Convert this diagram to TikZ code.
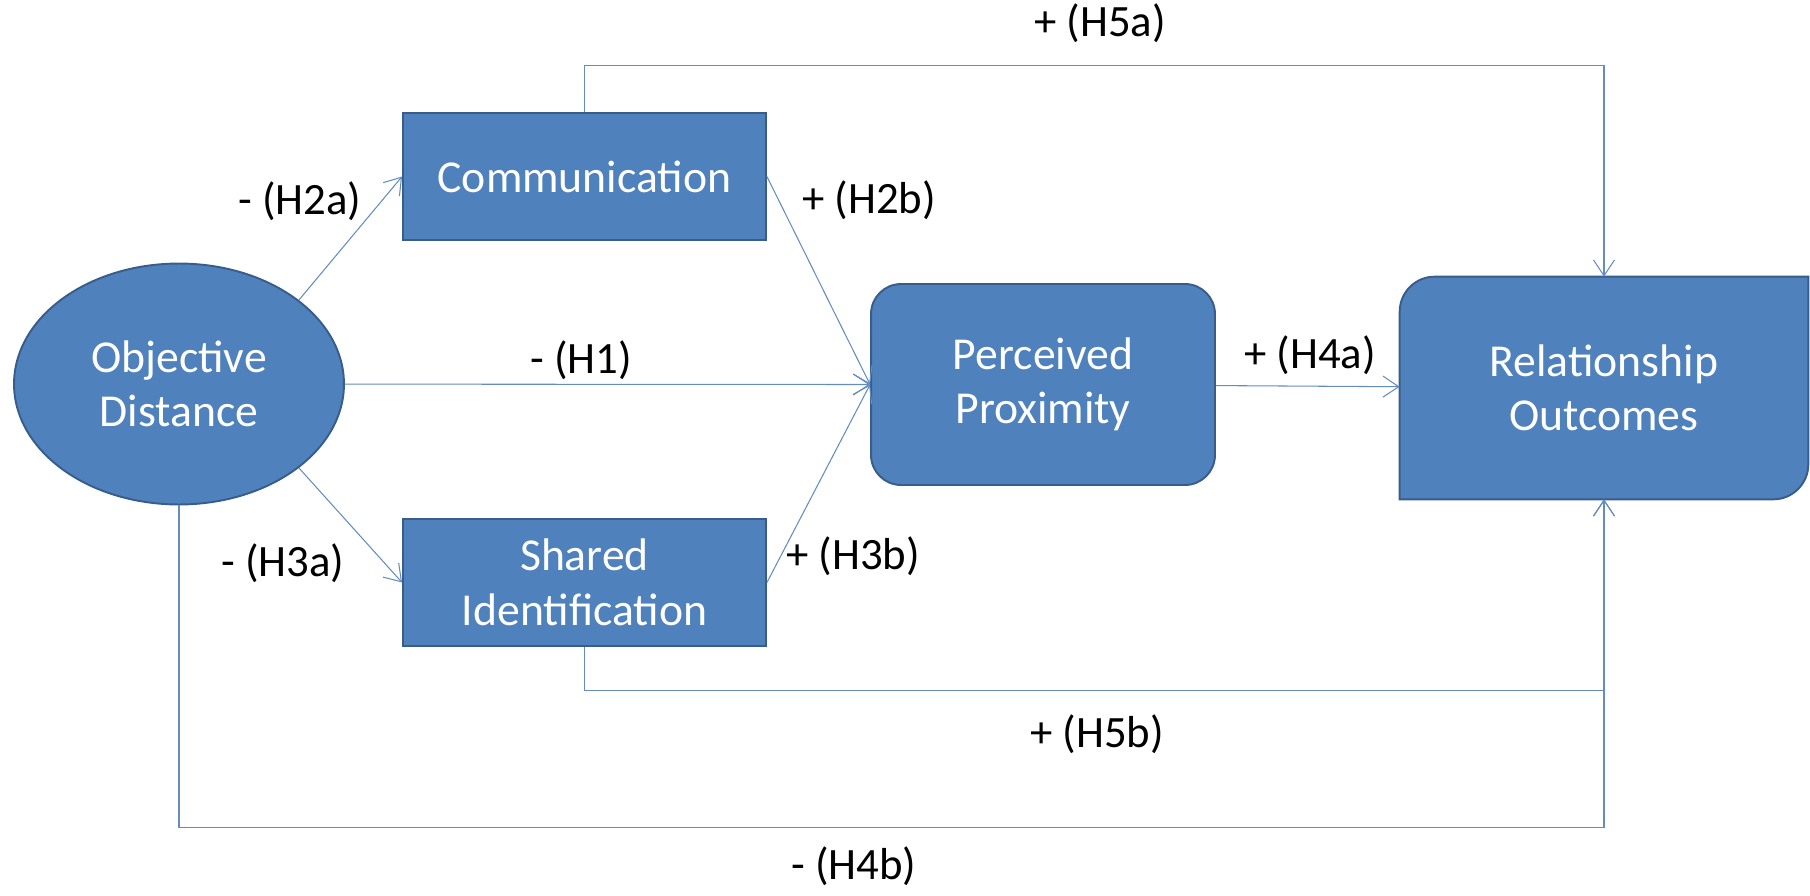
\documentclass[tikz,border=0pt]{standalone}
\usepackage{fontspec}
\setmainfont{Carlito}
\usetikzlibrary{shapes.geometric,arrows.meta,positioning}
\definecolor{boxfill}{RGB}{79,129,189}
\definecolor{boxline}{RGB}{56,93,138}
\definecolor{linkcol}{RGB}{100,140,195}

\begin{document}
\begin{tikzpicture}[x=0.02cm, y=-0.02cm, every node/.style={font=\fontsize{26}{31}\selectfont}]
    \tikzstyle{oval} = [ellipse, draw=boxline, line width=1.1pt, fill=boxfill, text=white, align=center, minimum width=6.6cm, minimum height=4.82cm, inner sep=0pt]
    \tikzstyle{box} = [rectangle, draw=boxline, line width=1.1pt, fill=boxfill, text=white, align=center, minimum width=7.26cm, minimum height=2.54cm]
    \tikzstyle{process} = [rectangle, draw=boxline, line width=1.1pt, fill=boxfill, text=white, align=center, rounded corners=0.6cm, minimum width=6.88cm, minimum height=4.02cm]
    \tikzstyle{outcome} = [rectangle, text=white, align=center, minimum width=8.16cm, minimum height=4.44cm]
    \tikzstyle{hyp} = [font=\fontsize{25.5}{30}\selectfont, text=black]
    \tikzstyle{link} = [draw=linkcol, line width=0.6pt, -{Straight Barb[length=9pt, width=12pt]}]
    \useasboundingbox (0,0) rectangle (1810,896);

    \node (od) [oval] at (179,384) {Objective\\Distance};
    \node (cm) [box] at (584.5,176.5) {Communication};
    \node (si) [box] at (584.5,582.5) {Shared\\Identification};
    \node (pp) [process] at (1043,384.5) {Perceived\\Proximity};
    % box with two rounded corners
    \node (ro) [outcome] at (1604,388) {};
    \filldraw[draw=boxline, line width=1.1pt, fill=boxfill]
        (ro.south west) -- ([yshift=-0.7cm]ro.north west) arc (180:90:0.7cm)
        -- (ro.north east) -- ([yshift=0.7cm]ro.south east) arc (0:-90:0.7cm) -- cycle;
    \node [outcome] at (ro) {Relationship\\Outcomes};

    \draw [link] (od.35) -- (cm.west);
    \draw [link] (od.-35) -- (si.west);
    \draw [link] (od) -- (pp.west);
    \draw [link] (cm.east) -- (pp.west);
    \draw [link] (si.east) -- (pp.west);
    \draw [link] (pp) -- (ro);
    \draw [link] (cm.north) -- ++(0,-47) -| (ro.north);
    \draw [link] (si.south) -- ++(0,44) -| (ro.south);
    \draw [link] (od.south) -- ++(0,322) -| (ro.south);

    \node (h5a) [hyp] at (1100,23) {+ (H5a)};
    \node (h2a) [hyp] at (300,201) {- (H2a)};
    \node (h2b) [hyp] at (869,200) {+ (H2b)};
    \node (h1) [hyp] at (581,360) {- (H1)};
    \node (h4a) [hyp] at (1310,355) {+ (H4a)};
    \node (h3a) [hyp] at (283,563) {- (H3a)};
    \node (h3b) [hyp] at (853,556) {+ (H3b)};
    \node (h5b) [hyp] at (1097,734) {+ (H5b)};
    \node (h4b) [hyp] at (854,866) {- (H4b)};
\end{tikzpicture}
\end{document}
